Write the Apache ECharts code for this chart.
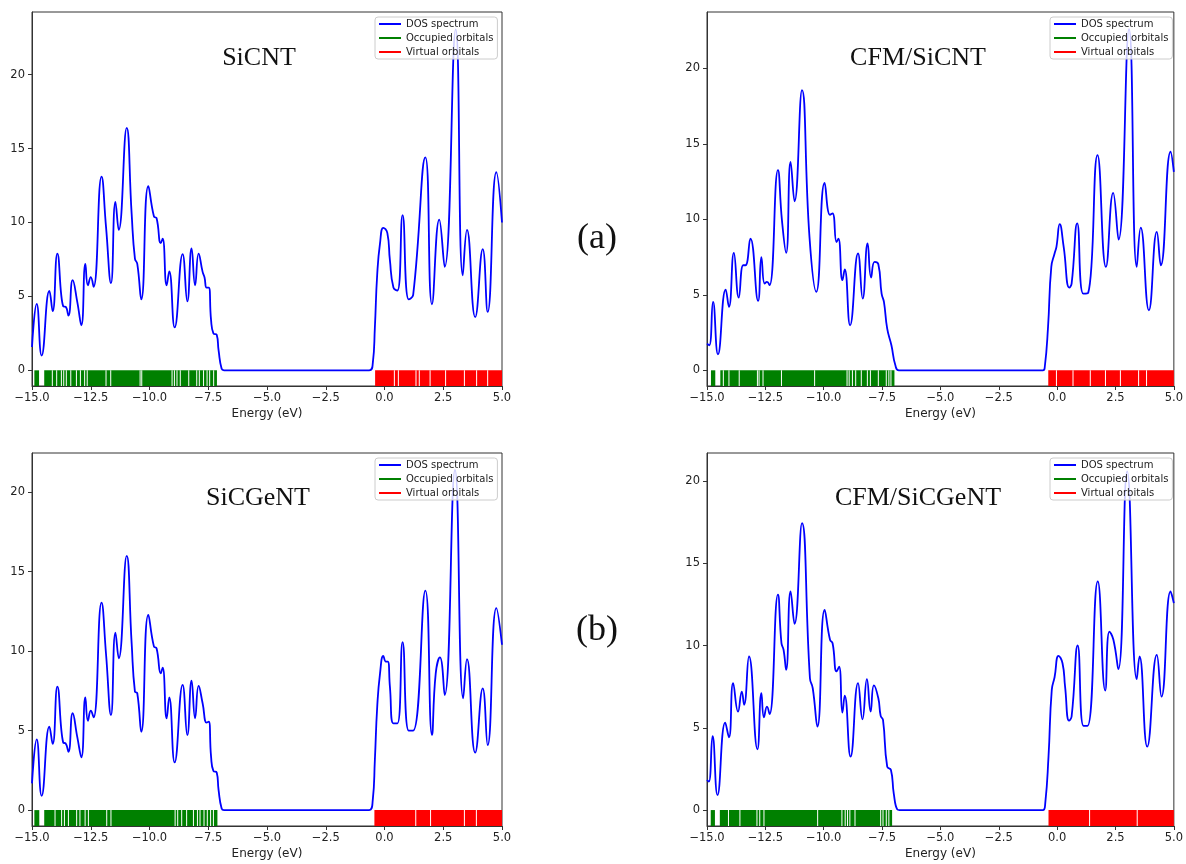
<!DOCTYPE html>
<html>
<head>
<meta charset="utf-8">
<script src="https://cdn.jsdelivr.net/npm/echarts@6/dist/echarts.min.js"></script>
<style>
  html, body { margin: 0; padding: 0; background: #fff; }
  #container { width: 1186px; height: 864px; }
</style>
</head>
<body>
<div id="container"></div>
<script>
// ---- SiCNT
var sicntE = [-15, -14.8, -14.59, -14.26, -14.12, -13.92, -13.67, -13.57, -13.45, -13.27, -13.07, -12.9, -12.73, -12.62, -12.5, -12.38, -12.04, -11.85, -11.64, -11.45, -11.31, -10.97, -10.76, -10.62, -10.52, -10.35, -10.05, -9.81, -9.7, -9.52, -9.44, -9.27, -9.16, -8.93, -8.59, -8.39, -8.21, -8.06, -7.91, -7.74, -7.66, -7.57, -7.48, -7.38, -7.28, -7.14, -7.06, -6.93, -6.83, -0.65, -0.5, -0.41, -0.31, -0.19, -0.05, 0.12, 0.23, 0.38, 0.55, 0.77, 1.03, 1.22, 1.74, 2.02, 2.33, 2.56, 3.03, 3.33, 3.51, 3.86, 4.18, 4.39, 4.76, 5.0];
var sicntDos = [1.58, 4.5, 1.0, 5.37, 4.0, 7.9, 4.33, 4.3, 3.7, 6.1, 4.6, 3.05, 7.2, 5.75, 6.3, 5.65, 13.1, 9.7, 5.9, 11.4, 9.5, 16.4, 10.6, 7.56, 7.2, 4.8, 12.46, 10.4, 10.3, 8.6, 8.9, 5.75, 6.7, 2.9, 7.86, 4.67, 8.24, 5.75, 7.9, 6.66, 6.3, 5.6, 5.6, 3.4, 2.5, 2.4, 1.35, 0.1, 0, 0, 0.45, 2.9, 6.5, 8.6, 9.64, 9.3, 7.45, 5.6, 5.4, 10.5, 4.8, 5.1, 14.4, 4.47, 10.2, 7.0, 23.07, 6.43, 9.5, 3.6, 8.2, 3.95, 13.4, 10.0];
var sicntOcc = [[-14.9, -14.7], [-14.48, -7.13]];
var sicntOccGaps = [-14.135, -13.95, -13.75, -13.65, -13.54, -13.35, -13.11, -12.94, -12.76, -12.65, -11.85, -11.65, -10.40, -10.33, -9.04, -8.94, -8.83, -8.69, -8.33, -7.99, -7.88, -7.70, -7.55, -7.44, -7.27];
var sicntVir = [[-0.40, 5]];
var sicntVirGaps = [0.42, 0.59, 1.34, 1.48, 1.94, 2.60, 3.40, 3.92, 4.39];

// ---- CFM/SiCNT
var cfmSicntE = [-15, -14.9, -14.74, -14.53, -14.2, -14.06, -13.85, -13.64, -13.45, -13.35, -13.14, -12.81, -12.67, -12.53, -12.43, -12.32, -11.96, -11.79, -11.61, -11.42, -11.25, -10.93, -10.61, -10.32, -9.96, -9.73, -9.62, -9.45, -9.37, -9.2, -9.1, -8.87, -8.53, -8.33, -8.12, -7.97, -7.82, -7.66, -7.52, -7.42, -7.28, -7.1, -6.93, -6.78, -0.61, -0.53, -0.39, -0.25, -0.11, -0.03, 0.11, 0.28, 0.52, 0.62, 0.86, 1.12, 1.33, 1.73, 2.09, 2.40, 2.63, 3.08, 3.41, 3.58, 3.93, 4.27, 4.44, 4.86, 5.0];
var cfmSicntDos = [1.77, 1.66, 4.53, 1.06, 5.35, 4.2, 7.78, 4.82, 6.96, 6.96, 8.73, 4.6, 7.5, 5.75, 5.86, 5.64, 13.26, 9.95, 7.78, 13.8, 11.2, 18.57, 8.84, 5.2, 12.42, 10.3, 10.4, 8.5, 8.73, 5.97, 6.68, 2.98, 7.74, 4.75, 8.4, 6.15, 7.18, 7.03, 5.08, 4.53, 2.76, 1.66, 0.33, 0, 0, 0.22, 2.87, 6.85, 7.74, 8.18, 9.68, 8.18, 5.48, 5.75, 9.73, 5.08, 5.13, 14.26, 6.85, 11.76, 8.66, 22.6, 6.85, 9.46, 3.98, 9.17, 6.96, 14.48, 13.15];
var cfmSicntOcc = [[-14.83, -14.645], [-14.43, -6.97]];
var cfmSicntOccGaps = [-14.30, -14.06, -13.62, -12.84, -12.77, -12.60, -11.81, -10.39, -9.0, -8.91, -8.77, -8.63, -8.39, -8.13, -8.0, -7.66, -7.32, -7.21, -7.12];
var cfmSicntVir = [[-0.38, 5]];
var cfmSicntVirGaps = [-0.03, 0.68, 1.42, 2.07, 2.71, 3.49, 3.83];

// ---- SiCGeNT
var sicgentE = [-15, -14.8, -14.59, -14.26, -14.12, -13.92, -13.67, -13.57, -13.45, -13.27, -13.07, -12.9, -12.73, -12.62, -12.5, -12.38, -12.04, -11.85, -11.64, -11.45, -11.31, -10.97, -10.76, -10.62, -10.52, -10.35, -10.05, -9.81, -9.7, -9.52, -9.44, -9.27, -9.16, -8.93, -8.59, -8.39, -8.21, -8.06, -7.91, -7.74, -7.57, -7.48, -7.38, -7.28, -7.14, -7.06, -6.93, -6.83, -0.65, -0.5, -0.41, -0.31, -0.19, -0.05, 0.06, 0.14, 0.23, 0.38, 0.55, 0.77, 1.03, 1.22, 1.74, 2.02, 2.18, 2.36, 2.56, 3.0, 3.35, 3.51, 3.86, 4.18, 4.39, 4.76, 5.0];
var sicgentDos = [1.68, 4.45, 0.9, 5.25, 4.16, 7.77, 4.24, 4.2, 3.67, 6.09, 4.57, 3.32, 7.09, 5.62, 6.25, 5.83, 13.05, 9.82, 5.98, 11.16, 9.55, 15.99, 10.5, 7.45, 7.35, 4.93, 12.28, 10.28, 10.18, 8.6, 8.96, 5.77, 7.09, 3.0, 7.87, 4.72, 8.14, 5.77, 7.81, 6.72, 5.5, 5.56, 3.36, 2.46, 2.37, 1.26, 0.1, 0, 0, 0.63, 3.15, 6.5, 8.6, 9.7, 9.34, 9.34, 7.77, 5.46, 5.46, 10.56, 5.0, 5.0, 13.81, 4.74, 8.6, 9.61, 7.24, 21.4, 7.03, 9.49, 3.61, 7.66, 4.09, 12.7, 10.4];
var sicgentOcc = [[-14.9, -14.69], [-14.48, -7.11]];
var sicgentOccGaps = [-14.02, -13.74, -13.62, -13.45, -13.10, -12.96, -12.74, -12.60, -11.82, -11.64, -8.91, -8.80, -8.63, -8.42, -8.13, -7.96, -7.85, -7.68, -7.54, -7.40, -7.28];
var sicgentVir = [[-0.43, 5]];
var sicgentVirGaps = [1.33, 1.96, 3.40, 3.91];

// ---- CFM/SiCGeNT
var cfmSicgentE = [-15, -14.92, -14.76, -14.55, -14.22, -14.06, -13.88, -13.67, -13.51, -13.41, -13.2, -12.84, -12.67, -12.56, -12.43, -12.32, -11.96, -11.81, -11.72, -11.61, -11.42, -11.25, -10.93, -10.59, -10.47, -10.27, -9.96, -9.73, -9.62, -9.45, -9.34, -9.2, -9.1, -8.85, -8.53, -8.34, -8.15, -7.99, -7.85, -7.66, -7.56, -7.46, -7.28, -7.12, -7.0, -6.85, -6.75, -0.61, -0.51, -0.37, -0.23, -0.11, 0.06, 0.23, 0.34, 0.51, 0.62, 0.88, 1.13, 1.30, 1.74, 2.06, 2.24, 2.41, 2.62, 3.0, 3.41, 3.53, 3.86, 4.27, 4.47, 4.86, 5.0];
var cfmSicgentDos = [1.83, 1.73, 4.5, 0.91, 5.32, 4.43, 7.72, 5.99, 7.21, 6.4, 9.34, 3.7, 7.11, 5.64, 6.29, 5.83, 13.1, 10.15, 9.75, 8.53, 13.3, 11.33, 17.46, 8.02, 7.41, 5.08, 12.18, 10.36, 10.15, 8.43, 8.73, 5.93, 6.96, 3.25, 7.72, 5.52, 7.96, 5.99, 7.59, 6.8, 5.73, 5.48, 2.64, 2.44, 1.02, 0.04, 0, 0, 0.41, 3.25, 7.31, 8.08, 9.38, 8.93, 7.51, 5.44, 5.69, 10.01, 5.12, 5.12, 13.91, 7.27, 10.86, 10.36, 8.57, 20.6, 7.96, 9.34, 3.86, 9.44, 6.9, 13.3, 12.59];
var cfmSicgentOcc = [[-14.84, -14.66], [-14.45, -7.07]];
var cfmSicgentOccGaps = [-14.08, -13.59, -12.86, -12.74, -12.56, -10.26, -9.22, -9.08, -8.98, -8.88, -8.66, -7.56, -7.46, -7.32, -7.21];
var cfmSicgentVir = [[-0.37, 5]];
var cfmSicgentVirGaps = [1.39, 3.43];

var yTicks = [0, 5, 10, 15, 20];

var panels = [
    {label: 'SiCNT', e: sicntE, dos: sicntDos, occ: sicntOcc, occGaps: sicntOccGaps, vir: sicntVir, virGaps: sicntVirGaps,
     left: 32, top: 12, height: 374, ymin: -1.06, ymax: 24.24, titleX: 259, titleY: 45},
    {label: 'CFM/SiCNT', e: cfmSicntE, dos: cfmSicntDos, occ: cfmSicntOcc, occGaps: cfmSicntOccGaps, vir: cfmSicntVir, virGaps: cfmSicntVirGaps,
     left: 707, top: 12, height: 374, ymin: -1.04, ymax: 23.74, titleX: 918, titleY: 45},
    {label: 'SiCGeNT', e: sicgentE, dos: sicgentDos, occ: sicgentOcc, occGaps: sicgentOccGaps, vir: sicgentVir, virGaps: sicgentVirGaps,
     left: 32, top: 453, height: 373, ymin: -1.0, ymax: 22.46, titleX: 258, titleY: 485},
    {label: 'CFM/SiCGeNT', e: cfmSicgentE, dos: cfmSicgentDos, occ: cfmSicgentOcc, occGaps: cfmSicgentOccGaps, vir: cfmSicgentVir, virGaps: cfmSicgentVirGaps,
     left: 707, top: 453, height: 373, ymin: -0.97, ymax: 21.72, titleX: 918, titleY: 485}
];

function renderBand(params, api) {
    var a = api.coord([api.value(0), 0]);
    var b = api.coord([api.value(1), 0]);
    var cs = params.coordSys;
    return {
        type: 'rect',
        shape: {x: a[0], y: a[1], width: b[0] - a[0], height: cs.y + cs.height - a[1]},
        style: {fill: api.visual('color')}
    };
}

function renderGap(params, api) {
    var p = api.coord([api.value(0), 0]);
    var cs = params.coordSys;
    return {
        type: 'rect',
        shape: {x: p[0] - 0.5, y: p[1], width: 1, height: cs.y + cs.height - p[1]},
        style: {fill: '#ffffff'}
    };
}

function fmtE(v) {
    var s = Math.abs(v).toFixed(1);
    return v < 0 ? '\u2212' + s : s;
}

var font = 'DejaVu Sans';
var grids = [], xAxes = [], yAxes = [], series = [], legends = [], titles = [];

panels.forEach(function (p, i) {
    grids.push({left: p.left, top: p.top, width: 470, height: p.height, show: true,
        borderColor: '#333', borderWidth: 1, backgroundColor: 'transparent'});
    xAxes.push({
        type: 'value', gridIndex: i, min: -15, max: 5, interval: 2.5,
        name: 'Energy (eV)', nameLocation: 'middle', nameGap: 22,
        nameTextStyle: {fontFamily: font, fontSize: 12, color: '#222'},
        axisLine: {show: true, onZero: false, lineStyle: {color: '#333', width: 1}},
        axisTick: {show: true, inside: false, length: 4, lineStyle: {color: '#333'}},
        axisLabel: {fontFamily: font, fontSize: 11.5, color: '#222', margin: 6, formatter: fmtE,
            showMinLabel: true, showMaxLabel: true},
        splitLine: {show: false}
    });
    yAxes.push({
        type: 'value', gridIndex: i, min: p.ymin, max: p.ymax,
        axisLine: {show: true, onZero: false, lineStyle: {color: '#333', width: 1}},
        axisTick: {show: true, inside: false, length: 4, customValues: yTicks, lineStyle: {color: '#333'}},
        axisLabel: {fontFamily: font, fontSize: 11.5, color: '#222', margin: 7, customValues: yTicks},
        splitLine: {show: false}
    });
    var curve = p.e.map(function (x, k) { return [x, p.dos[k]]; });
    series.push({
        name: 'DOS spectrum', type: 'line', xAxisIndex: i, yAxisIndex: i,
        data: curve, smooth: 0.5, showSymbol: false, symbol: 'none',
        lineStyle: {color: '#0000ff', width: 1.8}, itemStyle: {color: '#0000ff'}, z: 3, silent: true
    });
    series.push({
        name: 'Occupied orbitals', type: 'custom', xAxisIndex: i, yAxisIndex: i,
        renderItem: renderBand, itemStyle: {color: '#008000'},
        data: p.occ.map(function (b) { return [b[0], b[1], 0]; }), encode: {x: [0, 1], y: 2}, z: 2, silent: true
    });
    series.push({
        type: 'custom', xAxisIndex: i, yAxisIndex: i, renderItem: renderGap,
        data: p.occGaps.map(function (g) { return [g, 0]; }), encode: {x: 0, y: 1}, z: 2, silent: true
    });
    series.push({
        name: 'Virtual orbitals', type: 'custom', xAxisIndex: i, yAxisIndex: i,
        renderItem: renderBand, itemStyle: {color: '#ff0000'},
        data: p.vir.map(function (b) { return [b[0], b[1], 0]; }), encode: {x: [0, 1], y: 2}, z: 2, silent: true
    });
    series.push({
        type: 'custom', xAxisIndex: i, yAxisIndex: i, renderItem: renderGap,
        data: p.virGaps.map(function (g) { return [g, 0]; }), encode: {x: 0, y: 1}, z: 2, silent: true
    });
    legends.push({
        left: p.left + 343, top: p.top + 5, orient: 'vertical',
        data: ['DOS spectrum', 'Occupied orbitals', 'Virtual orbitals'],
        icon: 'rect', itemWidth: 22, itemHeight: 2, itemGap: 2,
        padding: [1, 4, 1, 4], borderColor: '#cccccc', borderWidth: 1, borderRadius: 3,
        backgroundColor: 'rgba(255,255,255,0.8)',
        textStyle: {fontFamily: font, fontSize: 10, color: '#222', lineHeight: 12}
    });
    titles.push({
        text: p.label, left: p.titleX, top: p.titleY, textAlign: 'center', padding: 0,
        textStyle: {fontFamily: 'Liberation Serif', fontSize: 26, fontWeight: 'normal', color: '#111'}
    });
});

titles.push({text: '(a)', left: 597, top: 221, textAlign: 'center', padding: 0,
    textStyle: {fontFamily: 'Liberation Serif', fontSize: 36, fontWeight: 'normal', color: '#111'}});
titles.push({text: '(b)', left: 597, top: 613, textAlign: 'center', padding: 0,
    textStyle: {fontFamily: 'Liberation Serif', fontSize: 36, fontWeight: 'normal', color: '#111'}});

var myChart = echarts.init(document.getElementById('container'), null, {renderer: 'canvas'});
var option = {
    animation: false,
    backgroundColor: '#ffffff',
    title: titles,
    legend: legends,
    grid: grids,
    xAxis: xAxes,
    yAxis: yAxes,
    series: series
};
myChart.setOption(option, true);
</script>
</body>
</html>
